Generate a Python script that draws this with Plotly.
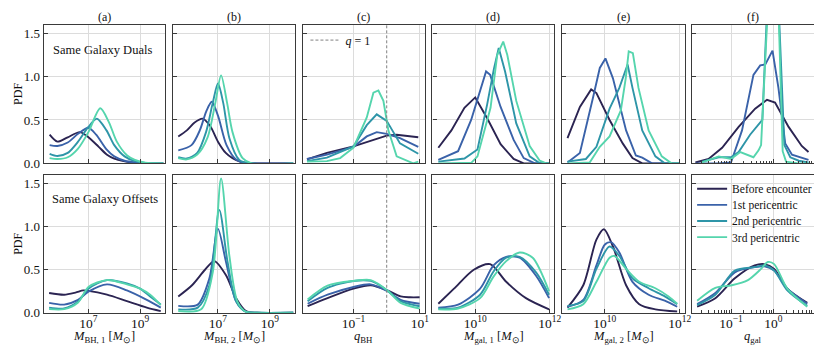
import numpy as np
import plotly.graph_objects as go

# ---------------- data (log10 x positions and PDF values) ----------------
series_names = ["Before encounter", "1st pericentric", "2nd pericentric", "3rd pericentric"]
col_titles = ["(a)", "(b)", "(c)", "(d)", "(e)", "(f)"]
row_labels = ["Same Galaxy Duals", "Same Galaxy Offsets"]

# Top row: Same Galaxy Duals
duals_mbh1_logx = [
    [5.5, 5.8, 6.2, 6.67, 7.0, 7.4, 7.72, 8.0, 8.36, 8.7, 9.0, 9.5, 9.9],
    [5.5, 5.8, 6.2, 6.6, 7.0, 7.3, 7.7, 8.0, 8.4, 8.8, 9.2, 9.9],
    [5.5, 5.8, 6.2, 6.6, 7.0, 7.33, 7.7, 8.0, 8.4, 8.8, 9.2, 9.9],
    [5.5, 5.8, 6.2, 6.6, 7.0, 7.46, 7.8, 8.1, 8.5, 8.8, 9.2, 9.9],
]
duals_mbh1_pdf = [
    [0.33, 0.25, 0.30, 0.36, 0.30, 0.19, 0.10, 0.055, 0.025, 0.01, 0.003, 0, 0],
    [0.21, 0.20, 0.24, 0.34, 0.41, 0.33, 0.16, 0.08, 0.03, 0.01, 0.002, 0],
    [0.11, 0.085, 0.12, 0.25, 0.42, 0.515, 0.38, 0.21, 0.08, 0.025, 0.005, 0],
    [0.06, 0.05, 0.07, 0.17, 0.36, 0.635, 0.47, 0.25, 0.09, 0.04, 0.008, 0],
]
duals_mbh2_logx = [
    [5.47, 5.8, 6.1, 6.41, 6.7, 7.0, 7.3, 7.56, 7.9, 8.3, 9.0, 9.9],
    [5.47, 5.98, 6.3, 6.55, 6.76, 7.0, 7.33, 7.71, 8.0, 8.5, 9.9],
    [5.47, 5.8, 6.2, 6.54, 6.8, 7.0, 7.2, 7.44, 7.82, 8.2, 9.9],
    [5.47, 5.8, 6.2, 6.6, 6.9, 7.12, 7.35, 7.56, 7.95, 8.3, 9.9],
]
duals_mbh2_pdf = [
    [0.31, 0.38, 0.47, 0.515, 0.43, 0.25, 0.12, 0.06, 0.015, 0, 0, 0],
    [0.15, 0.21, 0.38, 0.60, 0.71, 0.55, 0.21, 0.04, 0.005, 0, 0],
    [0.07, 0.055, 0.12, 0.36, 0.70, 0.92, 0.70, 0.29, 0.04, 0, 0],
    [0.06, 0.045, 0.10, 0.30, 0.70, 1.015, 0.70, 0.36, 0.06, 0, 0],
]
duals_qbh_logx = [
    [-2.4, -1.8, -1.0, -0.5, -0.3, 0.0, 0.3, 0.6, 0.95],
    [-2.4, -1.8, -1.0, -0.6, -0.3, 0.0, 0.4, 0.95],
    [-2.4, -1.8, -1.0, -0.6, -0.3, 0.0, 0.4, 0.95],
    [-2.4, -1.8, -1.4, -1.0, -0.6, -0.4, -0.25, -0.1, 0.05, 0.3, 0.8, 0.95],
]
duals_qbh_pdf = [
    [0.045, 0.12, 0.195, 0.26, 0.29, 0.32, 0.33, 0.32, 0.30],
    [0.05, 0.10, 0.19, 0.31, 0.36, 0.34, 0.29, 0.19],
    [0.025, 0.065, 0.195, 0.44, 0.565, 0.49, 0.23, 0.11],
    [0.02, 0.025, 0.06, 0.18, 0.53, 0.815, 0.84, 0.72, 0.38, 0.08, 0.0, 0.02],
]
duals_mgal1_logx = [
    [9.01, 9.36, 9.71, 10.0, 10.32, 10.68, 11.03, 11.3, 12.0],
    [9.01, 9.54, 9.89, 10.16, 10.29, 10.4, 10.68, 11.03, 11.3, 11.6, 12.0],
    [9.01, 9.71, 10.06, 10.32, 10.5, 10.63, 10.8, 11.1, 11.46, 11.73, 12.0],
    [9.01, 9.9, 10.06, 10.41, 10.59, 10.75, 10.86, 11.1, 11.46, 11.73, 11.9, 12.0],
]
duals_mgal1_pdf = [
    [0.18, 0.38, 0.64, 0.76, 0.52, 0.22, 0.05, 0.0, 0.0],
    [0.04, 0.14, 0.50, 0.87, 1.06, 1.02, 0.65, 0.27, 0.06, 0.0, 0.0],
    [0.02, 0.055, 0.16, 0.68, 1.09, 1.33, 1.06, 0.46, 0.08, 0.0, 0.0],
    [0.0, 0.008, 0.08, 0.64, 1.25, 1.405, 1.25, 0.72, 0.20, 0.03, 0.0, 0.0],
]
duals_mgal2_logx = [
    [9.01, 9.34, 9.64, 9.78, 10.13, 10.48, 10.74, 11.0, 12.0],
    [9.01, 9.34, 9.69, 9.87, 10.02, 10.22, 10.57, 10.83, 11.0, 11.26, 12.0],
    [9.01, 9.5, 9.78, 10.13, 10.39, 10.61, 10.74, 11.0, 11.35, 11.6, 12.0],
    [9.01, 9.6, 9.87, 10.13, 10.43, 10.56, 10.64, 10.75, 10.9, 11.17, 11.52, 11.78, 12.0],
]
duals_mgal2_pdf = [
    [0.29, 0.65, 0.853, 0.81, 0.50, 0.23, 0.06, 0.0, 0.0],
    [0.01, 0.12, 0.76, 1.10, 1.21, 0.98, 0.38, 0.09, 0.065, 0.0, 0.0],
    [0.02, 0.05, 0.19, 0.63, 0.87, 1.14, 0.87, 0.38, 0.08, 0.0, 0.0],
    [0.0, 0.01, 0.19, 0.31, 0.61, 0.98, 1.29, 1.27, 0.87, 0.38, 0.08, 0.0, 0.0],
]
duals_qgal_logx = [
    [-1.84, -1.53, -1.21, -0.82, -0.43, -0.15, 0.04, 0.36, 0.67, 0.83],
    [-1.84, -1.3, -1.0, -0.74, -0.47, -0.31, -0.19, -0.02, 0.12, 0.28, 0.44, 0.67, 0.83],
    [-1.68, -1.29, -1.0, -0.82, -0.55, -0.31, -0.26, -0.15, 0.0, 0.13, 0.26, 0.4, 0.6, 0.83],
    [-1.68, -1.29, -1.0, -0.78, -0.47, -0.35, -0.29, -0.13, 0.0, 0.12, 0.22, 0.3, 0.6, 0.83],
]
duals_qgal_pdf = [
    [0.01, 0.05, 0.18, 0.42, 0.63, 0.733, 0.70, 0.42, 0.20, 0.13],
    [0.0, 0.0, 0.01, 0.38, 1.02, 1.13, 1.14, 1.30, 0.87, 0.23, 0.10, 0.06, 0.04],
    [0.02, 0.07, 0.07, 0.13, 0.33, 0.46, 0.50, 1.75, 2.2, 1.75, 0.21, 0.07, 0.03, 0.01],
    [0.01, 0.08, 0.05, 0.13, 0.07, 0.15, 0.21, 1.8, 2.5, 1.8, 0.14, 0.02, 0.0, 0.0],
]

# Bottom row: Same Galaxy Offsets
offsets_mbh1_logx = [
    [5.48, 6.06, 6.5, 6.8, 7.0, 7.72, 8.49, 9.26, 9.8],
    [5.48, 6.06, 6.6, 7.0, 7.72, 8.49, 9.26, 9.8],
    [5.48, 6.06, 6.6, 7.0, 7.72, 8.49, 9.0, 9.39, 9.8],
    [5.48, 6.06, 6.6, 7.0, 7.72, 8.49, 9.0, 9.39, 9.8],
]
offsets_mbh1_pdf = [
    [0.23, 0.21, 0.235, 0.26, 0.255, 0.21, 0.135, 0.06, 0.02],
    [0.115, 0.095, 0.15, 0.245, 0.33, 0.26, 0.15, 0.06],
    [0.06, 0.05, 0.13, 0.28, 0.38, 0.34, 0.28, 0.19, 0.095],
    [0.042, 0.042, 0.12, 0.30, 0.38, 0.33, 0.28, 0.21, 0.09],
]
offsets_mbh2_logx = [
    [5.47, 6.0, 6.5, 6.86, 7.31, 7.7, 8.08, 8.5, 9.9],
    [5.47, 6.22, 6.67, 7.0, 7.31, 7.7, 8.08, 8.5, 9.9],
    [5.47, 6.22, 6.67, 7.05, 7.37, 7.7, 8.08, 8.5, 9.9],
    [5.47, 6.35, 6.8, 7.12, 7.44, 7.75, 8.08, 8.5, 9.9],
]
offsets_mbh2_pdf = [
    [0.19, 0.32, 0.50, 0.60, 0.435, 0.17, 0.02, 0.0, 0.0],
    [0.08, 0.095, 0.40, 0.975, 0.59, 0.135, 0.01, 0.0, 0.0],
    [0.04, 0.06, 0.32, 1.195, 0.59, 0.13, 0.01, 0.0, 0.0],
    [0.02, 0.04, 0.47, 1.56, 0.66, 0.13, 0.01, 0.0, 0.0],
]
offsets_qbh_logx = [
    [-2.38, -1.78, -1.0, -0.48, 0.02, 0.42, 0.7, 0.99],
    [-2.38, -1.78, -1.0, -0.48, 0.02, 0.42, 0.99],
    [-2.38, -1.78, -1.0, -0.48, 0.02, 0.42, 0.99],
    [-2.38, -1.78, -1.0, -0.48, 0.02, 0.42, 0.99],
]
offsets_qbh_pdf = [
    [0.076, 0.17, 0.28, 0.32, 0.26, 0.19, 0.18, 0.18],
    [0.105, 0.21, 0.30, 0.33, 0.25, 0.15, 0.105],
    [0.135, 0.29, 0.37, 0.37, 0.26, 0.135, 0.076],
    [0.155, 0.315, 0.37, 0.38, 0.26, 0.115, 0.05],
]
offsets_mgal1_logx = [
    [9.01, 9.43, 9.96, 10.4, 10.83, 11.36, 11.98],
    [9.01, 9.54, 10.13, 10.49, 10.83, 11.19, 11.63, 11.98],
    [9.01, 9.54, 10.13, 10.49, 10.83, 11.19, 11.63, 11.98],
    [9.01, 9.54, 10.13, 10.49, 10.83, 11.19, 11.54, 11.98],
]
offsets_mgal1_pdf = [
    [0.105, 0.28, 0.50, 0.565, 0.36, 0.17, 0.04],
    [0.06, 0.095, 0.28, 0.55, 0.65, 0.64, 0.43, 0.17],
    [0.05, 0.06, 0.21, 0.48, 0.64, 0.65, 0.47, 0.21],
    [0.04, 0.05, 0.17, 0.42, 0.60, 0.70, 0.64, 0.25],
]
offsets_mgal2_logx = [
    [9.01, 9.43, 9.78, 9.98, 10.22, 10.57, 10.92, 11.35, 11.93],
    [9.01, 9.43, 9.78, 10.0, 10.17, 10.39, 10.74, 11.17, 11.6, 11.93],
    [9.01, 9.43, 9.78, 10.13, 10.39, 10.74, 11.17, 11.6, 11.93],
    [9.01, 9.43, 9.78, 10.13, 10.26, 10.57, 10.92, 11.35, 11.7, 11.93],
]
offsets_mgal2_pdf = [
    [0.06, 0.32, 0.85, 0.97, 0.77, 0.32, 0.10, 0.04, 0.015],
    [0.07, 0.15, 0.55, 0.79, 0.82, 0.70, 0.36, 0.21, 0.14, 0.07],
    [0.08, 0.135, 0.51, 0.77, 0.66, 0.40, 0.285, 0.19, 0.10],
    [0.04, 0.10, 0.36, 0.64, 0.66, 0.51, 0.36, 0.285, 0.19, 0.105],
]
offsets_qgal_logx = [
    [-1.8, -1.37, -0.91, -0.44, -0.21, 0.02, 0.33, 0.8],
    [-1.8, -1.37, -0.91, -0.44, -0.21, 0.02, 0.33, 0.8],
    [-1.8, -1.37, -0.91, -0.44, -0.21, 0.02, 0.33, 0.8],
    [-1.8, -1.37, -0.98, -0.6, -0.29, -0.13, 0.02, 0.33, 0.8],
]
offsets_qgal_pdf = [
    [0.072, 0.17, 0.40, 0.55, 0.565, 0.51, 0.28, 0.115],
    [0.10, 0.23, 0.47, 0.53, 0.54, 0.49, 0.28, 0.105],
    [0.09, 0.21, 0.49, 0.53, 0.55, 0.49, 0.26, 0.08],
    [0.14, 0.29, 0.32, 0.38, 0.51, 0.59, 0.565, 0.28, 0.07],
]

# axis settings per column: log10 range, tick exponents, tick text
x_ranges = [[5.27, 9.97], [5.27, 9.97], [-2.52, 1.15], [8.85, 12.12], [8.87, 12.13], [-1.93, 0.95]]
x_tick_exps = [[7, 9], [7, 9], [-1, 1], [10, 12], [10, 12], [-1, 0]]
x_tick_text = [["10<sup>7</sup>", "10<sup>9</sup>"], ["10<sup>7</sup>", "10<sup>9</sup>"],
               ["10<sup>−1</sup>", "10<sup>1</sup>"], ["10<sup>10</sup>", "10<sup>12</sup>"],
               ["10<sup>10</sup>", "10<sup>12</sup>"], ["10<sup>−1</sup>", "10<sup>0</sup>"]]
x_titles = ["<i>M</i><sub>BH, 1</sub> [<i>M</i><sub>⊙</sub>]",
            "<i>M</i><sub>BH, 2</sub> [<i>M</i><sub>⊙</sub>]",
            "<i>q</i><sub>BH</sub>",
            "<i>M</i><sub>gal, 1</sub> [<i>M</i><sub>⊙</sub>]",
            "<i>M</i><sub>gal, 2</sub> [<i>M</i><sub>⊙</sub>]",
            "<i>q</i><sub>gal</sub>"]
y_ticks = [0.0, 0.5, 1.0, 1.5]
q_line = 1.0

top_panels = [(duals_mbh1_logx, duals_mbh1_pdf), (duals_mbh2_logx, duals_mbh2_pdf),
              (duals_qbh_logx, duals_qbh_pdf), (duals_mgal1_logx, duals_mgal1_pdf),
              (duals_mgal2_logx, duals_mgal2_pdf), (duals_qgal_logx, duals_qgal_pdf)]
bottom_panels = [(offsets_mbh1_logx, offsets_mbh1_pdf), (offsets_mbh2_logx, offsets_mbh2_pdf),
                 (offsets_qbh_logx, offsets_qbh_pdf), (offsets_mgal1_logx, offsets_mgal1_pdf),
                 (offsets_mgal2_logx, offsets_mgal2_pdf), (offsets_qgal_logx, offsets_qgal_pdf)]

# ---------------- styling ----------------
W, H = 822, 346
FONT = "Liberation Serif"
colors = ["#2b2452", "#3a62a9", "#2e95a8", "#55d5ad"]
FRAME = "#3a3a3a"
GRID = "#dcdcdc"

col_px = [(36, 158.5), (166.5, 289.5), (297.5, 420.5), (428, 551), (559, 682.5), (689.5, 812.5)]
row_px = [(17, 159), (171, 312)]
legend_names = ["legend", "legend3", "legend4", "legend5"]
legend_row_px = [185, 201.5, 218, 234.5]

fig = go.Figure()

def axname(r, c):
    return r * 6 + c + 1

linear_panels_top = {2, 3, 4, 5}

for r, panels in enumerate([top_panels, bottom_panels]):
    for c, (lx, py) in enumerate(panels):
        n = axname(r, c)
        xa = "x" if n == 1 else f"x{n}"
        ya = "y" if n == 1 else f"y{n}"
        for k in range(4):
            shape = "linear" if (r == 0 and c in linear_panels_top) else "spline"
            fig.add_trace(go.Scatter(
                x=np.power(10.0, np.array(lx[k])), y=py[k], mode="lines",
                line=dict(color=colors[k], width=1.9, shape=shape, smoothing=0.8),
                name=series_names[k], showlegend=(r == 1 and c == 5),
                legend=legend_names[k], xaxis=xa, yaxis=ya, hoverinfo="skip"))
        if c == 2:
            fig.add_trace(go.Scatter(
                x=[q_line, q_line], y=[0, 1.6], mode="lines",
                line=dict(color="#808080", width=1, dash="3px,2px"),
                name="<i>q</i> = 1", showlegend=(r == 0), legend="legend2",
                xaxis=xa, yaxis=ya, hoverinfo="skip"))

layout = dict(
    width=W, height=H, margin=dict(l=0, r=0, t=0, b=0),
    paper_bgcolor="white", plot_bgcolor="white",
    font=dict(family=FONT, size=13, color="#111"),
    showlegend=True,
)

for r in range(2):
    for c in range(6):
        n = axname(r, c)
        xk = "xaxis" if n == 1 else f"xaxis{n}"
        yk = "yaxis" if n == 1 else f"yaxis{n}"
        x0, x1 = col_px[c]
        y0, y1 = row_px[r]
        tickvals = [10.0 ** e for e in x_tick_exps[c]]
        xa = dict(
            type="log", range=x_ranges[c], domain=[x0 / W, x1 / W],
            anchor="y" if n == 1 else f"y{n}",
            tickvals=tickvals, ticktext=x_tick_text[c],
            showticklabels=(r == 1), ticks="inside", ticklen=4, tickwidth=1, tickcolor=FRAME,
            showgrid=True, gridcolor=GRID, gridwidth=1,
            showline=True, linecolor=FRAME, linewidth=1.3, mirror=True,
            zeroline=False, tickfont=dict(family=FONT, size=13.5), fixedrange=True,
            ticklabelstandoff=-2,
        )
        if c == 5:
            mv = []
            for e in [-2, -1, 0]:
                for m in range(2, 10):
                    v = m * 10.0 ** e
                    if 10 ** x_ranges[c][0] < v < 10 ** x_ranges[c][1]:
                        mv.append(v)
            xa["minor"] = dict(tickvals=mv, ticks="inside", ticklen=2.5, tickcolor=FRAME, showgrid=False)
        layout[xk] = xa
        layout[yk] = dict(
            range=[0, 1.6], domain=[1 - y1 / H, 1 - y0 / H],
            anchor="x" if n == 1 else f"x{n}",
            tickvals=y_ticks, tickformat=".1f", showticklabels=(c == 0),
            ticks="inside", ticklen=4, tickwidth=1, tickcolor=FRAME,
            showgrid=True, gridcolor=GRID, gridwidth=1,
            showline=True, linecolor=FRAME, linewidth=1.3, mirror=True,
            zeroline=False, tickfont=dict(family=FONT, size=13), fixedrange=True,
        )

for k, ln in enumerate(legend_names):
    layout[ln] = dict(
        x=690 / W, y=1 - legend_row_px[k] / H, xanchor="left", yanchor="middle",
        bgcolor="rgba(0,0,0,0)", borderwidth=0,
        font=dict(family=FONT, size=11.5, color="#111"), itemwidth=30,
    )
layout["legend2"] = dict(
    x=300 / W, y=1 - 18 / H, xanchor="left", yanchor="top",
    bgcolor="rgba(0,0,0,0)", borderwidth=0,
    font=dict(family=FONT, size=12, color="#111"), itemwidth=30,
)

annotations = []
for c in range(6):
    x0, x1 = col_px[c]
    annotations.append(dict(text=col_titles[c], x=(x0 + x1) / 2 / W, y=1 - 9 / H,
                            xref="paper", yref="paper", showarrow=False,
                            font=dict(family=FONT, size=12), xanchor="center", yanchor="middle"))
    annotations.append(dict(text=x_titles[c], x=(x0 + x1) / 2 / W, y=1 - 336.5 / H,
                            xref="paper", yref="paper", showarrow=False,
                            font=dict(family=FONT, size=12.5), xanchor="center", yanchor="middle"))
for r in range(2):
    y0, y1 = row_px[r]
    annotations.append(dict(text="PDF", x=10 / W, y=1 - (y0 + y1) / 2 / H, textangle=-90,
                            xref="paper", yref="paper", showarrow=False,
                            font=dict(family=FONT, size=12), xanchor="center", yanchor="middle"))
annotations.append(dict(text=row_labels[0], x=95 / W, y=1 - 43 / H, xref="paper", yref="paper",
                        showarrow=False, font=dict(family=FONT, size=12.5), xanchor="center", yanchor="middle"))
annotations.append(dict(text=row_labels[1], x=98 / W, y=1 - 196 / H, xref="paper", yref="paper",
                        showarrow=False, font=dict(family=FONT, size=12.5), xanchor="center", yanchor="middle"))
layout["annotations"] = annotations

fig.update_layout(**layout)
fig.write_html("out.html")
